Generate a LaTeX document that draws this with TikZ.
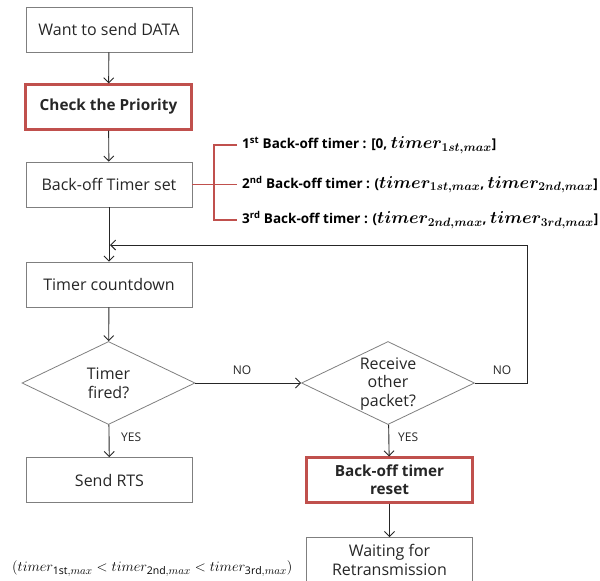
\documentclass[tikz,border=0pt]{standalone}
\usepackage{fontspec}
\setmainfont{Open Sans}
\usepackage{amsmath,bm}
\usetikzlibrary{arrows.meta,shapes.geometric}
\definecolor{boxgray}{HTML}{7F7F7F}
\definecolor{prio}{HTML}{C0504D}
\definecolor{ink}{HTML}{262626}
% large bold-italic limits in the range list, with roomy subscripts
\DeclareMathSizes{19}{19}{12.5}{9}
\DeclareMathSizes{15}{15}{10.5}{7.5}
\newcommand{\tmx}[1]{{\fontsize{19}{19}\selectfont$\bm{timer}_{\bm{#1,max}}$}}
\newcommand{\tpl}[1]{timer_{\mathrm{#1},max}}
\begin{document}
\begin{tikzpicture}[x=1pt,y=-1pt,
  box/.style={draw=boxgray, line width=0.8pt, minimum width=166pt, minimum height=45pt,
    inner sep=0pt, align=center, text=ink, font=\fontsize{16}{19}\selectfont},
  keybox/.style={box, draw=prio, line width=2.2pt, font=\fontsize{15.3}{18}\selectfont\bfseries},
  dia/.style={diamond, draw=boxgray, line width=0.8pt, minimum width=173pt, minimum height=83pt, inner sep=0pt},
  diatext/.style={align=center, text=ink, inner sep=0pt, font=\fontsize{16}{18.5}\selectfont},
  flow/.style={draw=ink, line width=0.9pt, -{Straight Barb[length=5pt,width=10pt]}},
  lbl/.style={text=ink, inner sep=0pt, font=\fontsize{12}{14}\selectfont},
  rangetxt/.style={anchor=west, inner sep=0pt, text=black, font=\fontsize{13.5}{16}\selectfont\bfseries},
  bracket/.style={draw=prio, line width=1.3pt}]
\useasboundingbox (0,0) rectangle (600,581);
\clip (0,0) rectangle (600,581);

% main column
\node[box]    (want)   at (109,29.5)  {Want to send DATA};
\node[keybox] (prior)  at (108.5,107) {Check the Priority};
\node[box]    (boset)  at (109,184.5) {Back-off Timer set};
\node[box]    (count)  at (109,284.5) {Timer countdown};
\node[dia]    (fired)  at (108.5,383) {};
\node[diatext] (firedt) at (fired) {Timer\\fired?};
\node[box]    (rts)    at (109.5,480) {Send RTS};

% right column
\node[dia]    (recv)   at (388,383) {};
\node[diatext] (recvt) at (388,384) {Receive\\other\\packet?};
\node[keybox] (reset)  at (389.5,480) {Back-off timer\\reset};
\node[box]    (wait)   at (389.5,560) {Waiting for\\Retransmission};

% back-off ranges
\coordinate (bjoin) at (214,184.5);
\coordinate (b1) at (237,145);
\coordinate (b2) at (237,184.5);
\coordinate (b3) at (237,220);
\draw[bracket] (boset.east) -- (b2);
\draw[bracket] (b1) -| (bjoin) |- (b3);
\node[rangetxt] (r1) at (242,145)   {1\textsuperscript{st} Back-off timer : [0, \tmx{1st}]};
\node[rangetxt] (r2) at (242,184.5) {2\textsuperscript{nd} Back-off timer : (\tmx{1st}, \tmx{2nd}]};
\node[rangetxt] (r3) at (242,220)   {3\textsuperscript{rd} Back-off timer : (\tmx{2nd}, \tmx{3rd}]};

% flow
\draw[flow] (want) -- (prior);
\draw[flow] (prior) -- (boset);
\draw[flow] (boset) -- (count);
\draw[flow] (count) -- (fired);
\draw[flow] (fired) -- (rts);
\draw[flow] (fired) -- (recv);
\draw[flow] (recv) -- (reset);
\draw[flow] (reset) -- (wait);
\coordinate (loopin) at (110,245);
\coordinate (loopcorner) at (527,245);
\draw[flow] (recv.east) -| (loopcorner) -- (loopin);

% branch labels
\node[lbl, anchor=west] (yes1) at (121,437) {YES};
\node[lbl, anchor=west] (yes2) at (398,437) {YES};
\node[lbl] (no1) at (242,370) {NO};
\node[lbl] (no2) at (502,370) {NO};

% ordering of the limits
\node[anchor=west, inner sep=0pt, font=\fontsize{15}{17}\selectfont] (order) at (12,569)
  {$(\tpl{1st} < \tpl{2nd} < \tpl{3rd})$};
\end{tikzpicture}
\end{document}
